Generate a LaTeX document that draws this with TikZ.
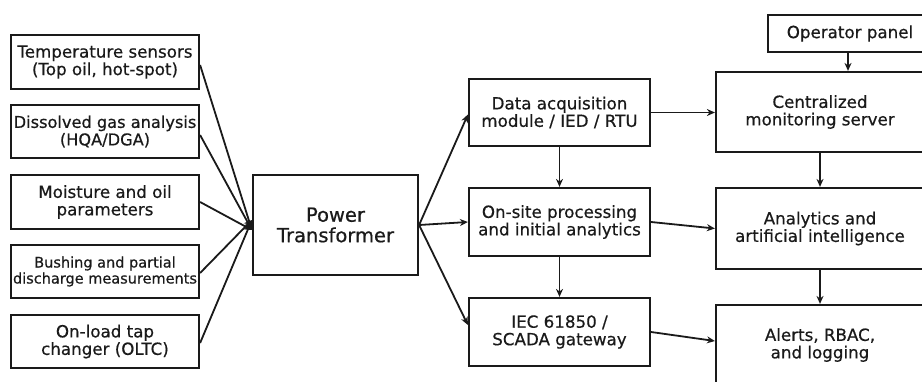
\documentclass[tikz,border=0pt]{standalone}
\usepackage{fontspec}
\setmainfont{DejaVu Sans}[FakeBold=0.6]
\usetikzlibrary{arrows.meta,calc}
\definecolor{ink}{HTML}{1A1A1A}
\begin{document}
\begin{tikzpicture}[x=1pt,y=-1pt,
  box/.style={draw=ink,line width=2.2pt,rectangle,align=center,inner sep=0pt,
    font=\fontsize{16.7}{17.5}\selectfont,text=ink},
  conn/.style={draw=ink,line width=1.8pt,-{Stealth[length=8pt,width=7pt]}}]
\useasboundingbox (0,0) rectangle (922,381);
\clip (0,0) rectangle (922,381);
% left column
\node[box,minimum width=188pt,minimum height=54pt] (temp) at (105,62) {Temperature sensors\\(Top oil, hot-spot)};
\node[box,minimum width=188pt,minimum height=53pt,font=\fontsize{16.2}{17.5}\selectfont] (dga) at (105,131.5) {Dissolved gas analysis\\(HQA/DGA)};
\node[box,minimum width=188pt,minimum height=54pt] (moist) at (105,202) {Moisture and oil\\parameters};
\node[box,minimum width=188pt,minimum height=53pt,font=\fontsize{14.5}{16}\selectfont] (bush) at (105,271.5) {Bushing and partial\\discharge measurements};
\node[box,minimum width=188pt,minimum height=53pt] (oltc) at (105,341.5) {On-load tap\\changer (OLTC)};
% transformer
\node[box,minimum width=165pt,minimum height=100pt,font=\fontsize{19.5}{20.5}\selectfont] (pt) at (335.5,225) {Power\\Transformer};
% middle column
\node[box,minimum width=181pt,minimum height=67pt] (da) at (559.5,112.5) {Data acquisition\\module / IED / RTU};
\node[box,minimum width=181pt,minimum height=68pt] (os) at (559.5,222) {On-site processing\\and initial analytics};
\node[box,minimum width=181pt,minimum height=68pt] (iec) at (559.5,332) {IEC 61850 /\\SCADA gateway};
% right column
\node[box,minimum width=208pt,minimum height=80pt] (cms) at (820,112) {Centralized\\monitoring server};
\node[box,minimum width=208pt,minimum height=81pt] (aai) at (820,228.5) {Analytics and\\artificial intelligence};
\node[box,minimum width=208pt,minimum height=80pt] (arl) at (820,345) {Alerts, RBAC,\\and logging};
\node[box,minimum width=164pt,minimum height=37pt] (op) at (850,33.5) {Operator panel};
% arrows into transformer
\coordinate (inA) at ([yshift=-5pt]pt.west);
\coordinate (inB) at ([yshift=5pt]pt.west);
\draw[conn] ([yshift=-3pt]temp.east) -- (inA);
\draw[conn] ([yshift=-3.5pt]dga.east) -- (inA);
\draw[conn] (moist.east) -- (inA);
\draw[conn] ([yshift=-1.5pt]bush.east) -- (inB);
\draw[conn] ([yshift=-1.5pt]oltc.east) -- (inB);
% transformer outputs
\draw[conn] (pt.east) -- ([yshift=-2pt]da.west);
\draw[conn] (pt.east) -- (os.west);
\draw[conn] (pt.east) -- ([yshift=7pt]iec.west);
% middle verticals
\draw[conn] (da.south) -- (os.north);
\draw[conn] (os.south) -- (iec.north);
% middle to right
\draw[conn] (da.east) -- (da.east -| cms.west);
\draw[conn] (os.east) -- (aai.west);
\draw[conn] (iec.east) -- ([yshift=4pt]arl.west);
% right verticals
\draw[conn] (cms.south) -- (aai.north);
\draw[conn] (aai.south) -- (arl.north);
\draw[conn] ([xshift=-2pt]op.south) -- ([xshift=-2pt]op.south |- cms.north);
\end{tikzpicture}
\end{document}
